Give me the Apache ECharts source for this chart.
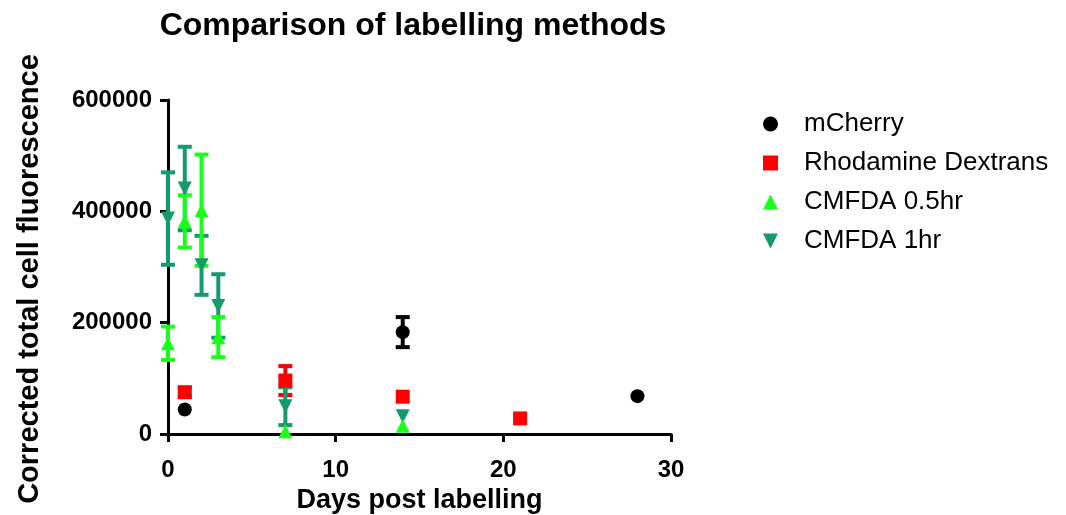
<!DOCTYPE html>
<html>
<head>
<meta charset="utf-8">
<script src="https://cdn.jsdelivr.net/npm/echarts@6/dist/echarts.min.js"></script>
<style>
  html, body { margin: 0; padding: 0; background: #fff; }
  #chart { width: 1066px; height: 515px; }
</style>
</head>
<body>
<div id="chart"></div>
<script>
// values: day, mean, error (+/-)
const mcherryDays = [1, 14, 28];
const mcherryMean = [44000, 183000, 68000];
const mcherryErr = [0, 27000, 0];

const rhodDays = [1, 7, 14, 21];
const rhodMean = [75000, 96000, 67000, 28000];
const rhodErr = [8000, 26000, 0, 0];

const cm05Days = [0, 1, 2, 3, 7, 14];
const cm05Mean = [163000, 382000, 402000, 174000, 5000, 15000];
const cm05Err = [30000, 47000, 100000, 36000, 0, 0];

const cm1Days = [0, 1, 2, 3, 7, 14];
const cm1Mean = [387000, 441000, 303000, 230000, 50000, 32000];
const cm1Err = [83000, 75000, 53000, 57000, 34000, 0];

const xTicks = [0, 10, 20, 30];
const yTicks = [0, 200000, 400000, 600000];

const FONT = 'Liberation Sans, Arial, sans-serif';
const DOWN_TRI = 'path://M0,0 L10,0 L5,10 Z';

const chart = echarts.init(document.getElementById('chart'));

// points for scatter marks
function pts(days, mean) {
  return days.map((d, i) => [d, mean[i]]);
}
// [day, low, high] for the error bars
function bars(days, mean, err) {
  return days.map((d, i) => [d, mean[i] - err[i], mean[i] + err[i]]).filter((b, i) => err[i] > 0);
}

function errorSeries(name, days, mean, err, color) {
  return {
    type: 'custom',
    name: name + ' err',
    data: bars(days, mean, err),
    z: 2,
    renderItem: function (params, api) {
      const x = api.value(0);
      const lo = api.coord([x, api.value(1)]);
      const hi = api.coord([x, api.value(2)]);
      const w = 7;
      const style = { stroke: color, lineWidth: 4 };
      return {
        type: 'group',
        children: [
          { type: 'line', shape: { x1: lo[0], y1: lo[1], x2: hi[0], y2: hi[1] }, style: style },
          { type: 'line', shape: { x1: lo[0] - w, y1: lo[1], x2: lo[0] + w, y2: lo[1] }, style: style },
          { type: 'line', shape: { x1: hi[0] - w, y1: hi[1], x2: hi[0] + w, y2: hi[1] }, style: style }
        ]
      };
    }
  };
}

const colBlack = '#000000';
const colRed = '#ff0000';
const colLight = '#1aff1a';
const colDark = '#159a6a';

const option = {
  animation: false,
  title: {
    text: 'Comparison of labelling methods',
    left: 408,
    textAlign: 'center',
    top: 5,
    textStyle: { fontFamily: FONT, fontWeight: 'bold', fontSize: 32, color: '#000' }
  },
  graphic: [{
    type: 'text',
    x: 30,
    y: 279,
    rotation: Math.PI / 2,
    style: {
      text: 'Corrected total cell fluorescence',
      fontFamily: FONT, fontWeight: 'bold', fontSize: 29, fill: '#000',
      align: 'center', verticalAlign: 'middle'
    }
  }],
  legend: {
    orient: 'vertical',
    left: 758,
    top: 106,
    itemWidth: 15,
    itemHeight: 15,
    itemGap: 13,
    data: [
      { name: 'mCherry' },
      { name: 'Rhodamine Dextrans' },
      { name: 'CMFDA 0.5hr' },
      { name: 'CMFDA 1hr', icon: DOWN_TRI }
    ],
    textStyle: { fontFamily: FONT, fontSize: 26, color: '#000', padding: [0, 0, 0, 21] }
  },
  grid: { left: 168, right: 395, top: 100, bottom: 81, containLabel: false, outerBoundsMode: 'none' },
  xAxis: {
    type: 'value',
    min: xTicks[0],
    max: xTicks[xTicks.length - 1],
    interval: 10,
    name: 'Days post labelling',
    nameLocation: 'middle',
    nameGap: 52,
    nameTextStyle: { fontFamily: FONT, fontWeight: 'bold', fontSize: 27, color: '#000' },
    splitLine: { show: false },
    axisLine: { show: true, lineStyle: { color: '#000', width: 3 } },
    axisTick: { show: true, length: 8, lineStyle: { color: '#000', width: 3 } },
    axisLabel: { fontFamily: FONT, fontWeight: 'bold', fontSize: 24, color: '#000', margin: 24 }
  },
  yAxis: {
    type: 'value',
    min: yTicks[0],
    max: yTicks[yTicks.length - 1],
    interval: 200000,
    splitLine: { show: false },
    axisLine: { show: true, lineStyle: { color: '#000', width: 3 } },
    axisTick: { show: true, length: 8, lineStyle: { color: '#000', width: 3 } },
    axisLabel: {
      fontFamily: FONT, fontWeight: 'bold', fontSize: 24, color: '#000', margin: 16,
      formatter: v => String(v)
    }
  },
  series: [
    errorSeries('mCherry', mcherryDays, mcherryMean, mcherryErr, colBlack),
    errorSeries('Rhodamine Dextrans', rhodDays, rhodMean, rhodErr, colRed),
    errorSeries('CMFDA 1hr', cm1Days, cm1Mean, cm1Err, colDark),
    errorSeries('CMFDA 0.5hr', cm05Days, cm05Mean, cm05Err, colLight),
    {
      type: 'scatter', name: 'mCherry', data: pts(mcherryDays, mcherryMean),
      symbol: 'circle', symbolSize: 14, itemStyle: { color: colBlack, opacity: 1 }, z: 3
    },
    {
      type: 'scatter', name: 'Rhodamine Dextrans', data: pts(rhodDays, rhodMean),
      symbol: 'rect', symbolSize: 14, itemStyle: { color: colRed, opacity: 1 }, z: 3
    },
    {
      type: 'scatter', name: 'CMFDA 1hr', data: pts(cm1Days, cm1Mean),
      symbol: DOWN_TRI, symbolSize: 14, itemStyle: { color: colDark, opacity: 1 }, z: 3
    },
    {
      type: 'scatter', name: 'CMFDA 0.5hr', data: pts(cm05Days, cm05Mean),
      symbol: 'triangle', symbolSize: 14, itemStyle: { color: colLight, opacity: 1 }, z: 3
    }
  ]
};

chart.setOption(option);
</script>
</body>
</html>
